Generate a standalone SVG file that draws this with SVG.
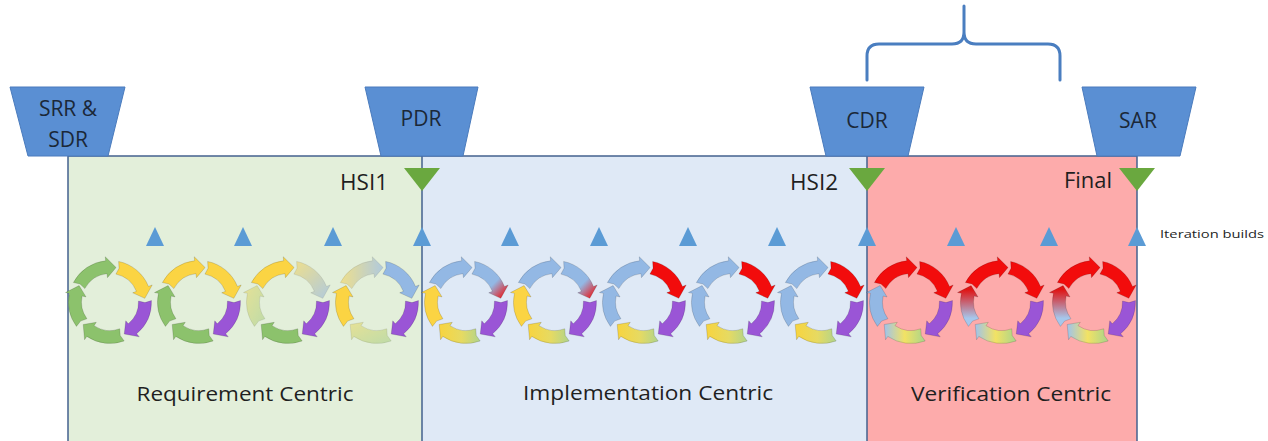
<svg xmlns="http://www.w3.org/2000/svg" xmlns:xlink="http://www.w3.org/1999/xlink" width="1268" height="441" viewBox="0 0 1268 441">
  <style>
    .lbl { font-family: "Open Sans", "Liberation Sans", sans-serif; fill: #1f1f1f; }
    .rev { fill: #5a8fd3; stroke: #4a7bbd; stroke-width: 1; }
    .rev-t { font-family: "Open Sans", "Liberation Sans", sans-serif; font-size: 21px; fill: #1b2838; text-anchor: middle; }
    .border { fill: none; stroke: #44628f; stroke-width: 1.5; }
    .ms { fill: #6aa83f; }
    .it { fill: #5b9bd5; }
    .seg { stroke: #000; stroke-opacity: 0.18; stroke-width: 0.8; }
    .g { fill: #8cc26c; }
    .y { fill: #fbd443; }
    .p { fill: #9a55d6; }
    .b { fill: #93b8e4; }
    .r { fill: #f20c0c; }
    .pale { opacity: 0.6; }
  </style>
  <defs>
    <!-- five curved arrow segments of one iteration cycle, centred on 0,0 -->
    <path id="s1" d="M -36.64 -19.48 A 41.5 41.5 0 0 1 -4.34 -41.27 L -4.76 -45.25 L 6.08 -34.47 L -2.56 -24.37 L -2.98 -28.34 A 28.5 28.5 0 0 0 -25.16 -13.38 L -30.00 -18.03 Z"/>
    <path id="s2" d="M 8.63 -40.59 A 41.5 41.5 0 0 1 38.48 -15.55 L 42.19 -17.04 L 34.81 -3.66 L 22.72 -9.18 L 26.42 -10.68 A 28.5 28.5 0 0 0 5.93 -27.88 L 9.06 -33.81 Z"/>
    <path id="s3" d="M 41.47 -1.45 A 41.5 41.5 0 0 1 26.68 31.79 L 29.25 34.85 L 14.24 31.97 L 15.75 18.77 L 18.32 21.83 A 28.5 28.5 0 0 0 28.48 -0.99 L 34.99 0.61 Z"/>
    <path id="s4" d="M 14.19 39.00 A 41.5 41.5 0 0 1 -23.21 34.41 L -25.44 37.72 L -26.81 22.50 L -13.70 20.31 L -15.94 23.63 A 28.5 28.5 0 0 0 9.75 26.78 L 10.23 33.47 Z"/>
    <path id="s5" d="M -33.57 24.39 A 41.5 41.5 0 0 1 -40.59 -8.63 L -44.51 -9.46 L -30.90 -16.43 L -23.96 -5.09 L -27.88 -5.93 A 28.5 28.5 0 0 0 -23.06 16.75 L -29.35 19.06 Z"/>

    <linearGradient id="gYBd" x1="0" y1="0" x2="1" y2="1">
      <stop offset="0" stop-color="#f6d55a"/>
      <stop offset="1" stop-color="#8fb2e0"/>
    </linearGradient>
    <linearGradient id="gYBh" x1="0" y1="0" x2="1" y2="0">
      <stop offset="0" stop-color="#f6d55a"/>
      <stop offset="1" stop-color="#8fb2e0"/>
    </linearGradient>
    <linearGradient id="gBR" x1="0" y1="0" x2="1" y2="1">
      <stop offset="0" stop-color="#93b8e4"/>
      <stop offset="0.6" stop-color="#93b8e4"/>
      <stop offset="0.95" stop-color="#f01010"/>
    </linearGradient>
    <linearGradient id="gYG" x1="0" y1="0" x2="1" y2="0">
      <stop offset="0" stop-color="#f8d43e"/>
      <stop offset="0.55" stop-color="#e6da62"/>
      <stop offset="1" stop-color="#b0d48c"/>
    </linearGradient>
    <linearGradient id="gBYG" x1="0" y1="0" x2="1" y2="0">
      <stop offset="0" stop-color="#9fc3ec"/>
      <stop offset="0.5" stop-color="#f2e264"/>
      <stop offset="1" stop-color="#a9d48c"/>
    </linearGradient>
    <linearGradient id="gRB" x1="0" y1="0" x2="0" y2="1">
      <stop offset="0.1" stop-color="#e01414"/>
      <stop offset="0.8" stop-color="#a6c7ec"/>
    </linearGradient>
    <linearGradient id="gGYp" x1="0" y1="0" x2="1" y2="1">
      <stop offset="0" stop-color="#e9d96a"/>
      <stop offset="1" stop-color="#a7cf88"/>
    </linearGradient>
  </defs>

  <rect width="1268" height="441" fill="#ffffff"/>

  <!-- phase bands -->
  <g id="phase-requirement">
    <rect x="68" y="156" width="354" height="290" fill="#e3efda"/>
    <text class="lbl" x="245" y="401" font-size="20" text-anchor="middle" textLength="217" lengthAdjust="spacingAndGlyphs">Requirement Centric</text>
  </g>
  <g id="phase-implementation">
    <rect x="422" y="156" width="445" height="290" fill="#dfe9f6"/>
    <text class="lbl" x="648" y="400" font-size="20" text-anchor="middle" textLength="250" lengthAdjust="spacingAndGlyphs">Implementation Centric</text>
  </g>
  <g id="phase-verification">
    <rect x="867" y="156" width="270" height="290" fill="#fdabab"/>
    <text class="lbl" x="1011" y="401" font-size="20" text-anchor="middle" textLength="200" lengthAdjust="spacingAndGlyphs">Verification Centric</text>
  </g>
  <path class="border" d="M68 441 V156 H1137 V441 M422 156 V441 M867 156 V441"/>

  <!-- review gates -->
  <g id="gate-srr-sdr">
    <polygon class="rev" points="10,87 125,87 108,156 28,156"/>
    <text class="rev-t" x="68" y="116" font-size="22">SRR &amp;</text>
    <text class="rev-t" x="68" y="147" font-size="22">SDR</text>
  </g>
  <g id="gate-pdr">
    <polygon class="rev" points="365,87 478,87 463,156 381,156"/>
    <text class="rev-t" x="421" y="126">PDR</text>
  </g>
  <g id="gate-cdr">
    <polygon class="rev" points="810,87 924,87 908,156 826,156"/>
    <text class="rev-t" x="867" y="128">CDR</text>
  </g>
  <g id="gate-sar">
    <polygon class="rev" points="1082,87 1196,87 1180,156 1097,156"/>
    <text class="rev-t" x="1138" y="128">SAR</text>
  </g>

  <!-- integration milestones -->
  <g id="ms-hsi1">
    <polygon class="ms" points="404,168 440,168 422,191"/>
    <text class="lbl" x="340" y="190" font-size="21" textLength="48" lengthAdjust="spacingAndGlyphs">HSI1</text>
  </g>
  <g id="ms-hsi2">
    <polygon class="ms" points="849,168 885,168 867,191"/>
    <text class="lbl" x="790" y="190" font-size="21" textLength="48" lengthAdjust="spacingAndGlyphs">HSI2</text>
  </g>
  <g id="ms-final">
    <polygon class="ms" points="1119,168 1155,168 1137,191"/>
    <text class="lbl" x="1064" y="188" font-size="21" textLength="48" lengthAdjust="spacingAndGlyphs">Final</text>
  </g>

  <!-- iteration build markers -->
  <g id="iteration-builds">
    <polygon class="it" points="155,227 146,246 164,246"/>
    <polygon class="it" points="243,227 234,246 252,246"/>
    <polygon class="it" points="333,227 324,246 342,246"/>
    <polygon class="it" points="422,227 413,246 431,246"/>
    <polygon class="it" points="510,227 501,246 519,246"/>
    <polygon class="it" points="599,227 590,246 608,246"/>
    <polygon class="it" points="688,227 679,246 697,246"/>
    <polygon class="it" points="777,227 768,246 786,246"/>
    <polygon class="it" points="867,227 858,246 876,246"/>
    <polygon class="it" points="956,227 947,246 965,246"/>
    <polygon class="it" points="1049,227 1040,246 1058,246"/>
    <polygon class="it" points="1137,227 1128,246 1146,246"/>
    <text class="lbl" x="1160" y="238" font-size="11.5" textLength="104" lengthAdjust="spacingAndGlyphs">Iteration builds</text>
  </g>

  <!-- iteration cycles -->
  <g id="cycle-1" transform="translate(110 302)">
    <use href="#s1" class="seg g"/><use href="#s2" class="seg y"/><use href="#s3" class="seg p"/><use href="#s4" class="seg g"/><use href="#s5" class="seg g"/>
  </g>
  <g id="cycle-2" transform="translate(199 302)">
    <use href="#s1" class="seg y"/><use href="#s2" class="seg y"/><use href="#s3" class="seg p"/><use href="#s4" class="seg g"/><use href="#s5" class="seg g"/>
  </g>
  <g id="cycle-3" transform="translate(288 302)">
    <use href="#s1" class="seg y"/><use href="#s2" class="seg pale" fill="url(#gYBd)"/><use href="#s3" class="seg p"/><use href="#s4" class="seg g"/><use href="#s5" class="seg pale" fill="url(#gGYp)"/>
  </g>
  <g id="cycle-4" transform="translate(377 302)">
    <use href="#s1" class="seg pale" fill="url(#gYBh)"/><use href="#s2" class="seg b"/><use href="#s3" class="seg p"/><use href="#s4" class="seg pale" fill="url(#gGYp)"/><use href="#s5" class="seg y"/>
  </g>
  <g id="cycle-5" transform="translate(466 302)">
    <use href="#s1" class="seg b"/><use href="#s2" class="seg" fill="url(#gBR)"/><use href="#s3" class="seg p"/><use href="#s4" class="seg" fill="url(#gYG)"/><use href="#s5" class="seg y"/>
  </g>
  <g id="cycle-6" transform="translate(555 302)">
    <use href="#s1" class="seg b"/><use href="#s2" class="seg" fill="url(#gBR)"/><use href="#s3" class="seg p"/><use href="#s4" class="seg" fill="url(#gYG)"/><use href="#s5" class="seg y"/>
  </g>
  <g id="cycle-7" transform="translate(644 302)">
    <use href="#s1" class="seg b"/><use href="#s2" class="seg r"/><use href="#s3" class="seg p"/><use href="#s4" class="seg" fill="url(#gYG)"/><use href="#s5" class="seg b"/>
  </g>
  <g id="cycle-8" transform="translate(733 302)">
    <use href="#s1" class="seg b"/><use href="#s2" class="seg r"/><use href="#s3" class="seg p"/><use href="#s4" class="seg" fill="url(#gYG)"/><use href="#s5" class="seg b"/>
  </g>
  <g id="cycle-9" transform="translate(822 302)">
    <use href="#s1" class="seg b"/><use href="#s2" class="seg r"/><use href="#s3" class="seg p"/><use href="#s4" class="seg" fill="url(#gYG)"/><use href="#s5" class="seg b"/>
  </g>
  <g id="cycle-10" transform="translate(911 302)">
    <use href="#s1" class="seg r"/><use href="#s2" class="seg r"/><use href="#s3" class="seg p"/><use href="#s4" class="seg" fill="url(#gBYG)"/><use href="#s5" class="seg b"/>
  </g>
  <g id="cycle-11" transform="translate(1002 302)">
    <use href="#s1" class="seg r"/><use href="#s2" class="seg r"/><use href="#s3" class="seg p"/><use href="#s4" class="seg" fill="url(#gBYG)"/><use href="#s5" class="seg" fill="url(#gRB)"/>
  </g>
  <g id="cycle-12" transform="translate(1094 302)">
    <use href="#s1" class="seg r"/><use href="#s2" class="seg r"/><use href="#s3" class="seg p"/><use href="#s4" class="seg" fill="url(#gBYG)"/><use href="#s5" class="seg" fill="url(#gRB)"/>
  </g>

  <!-- brace spanning CDR to SAR -->
  <g id="connectors">
    <path d="M867 80 V56 Q867 44 879 44 H952 Q964 44 964 32 V6 M964 32 Q964 44 976 44 H1048 Q1060 44 1060 56 V80" fill="none" stroke="#4a7ec0" stroke-width="3" stroke-linecap="round"/>
  </g>
</svg>
